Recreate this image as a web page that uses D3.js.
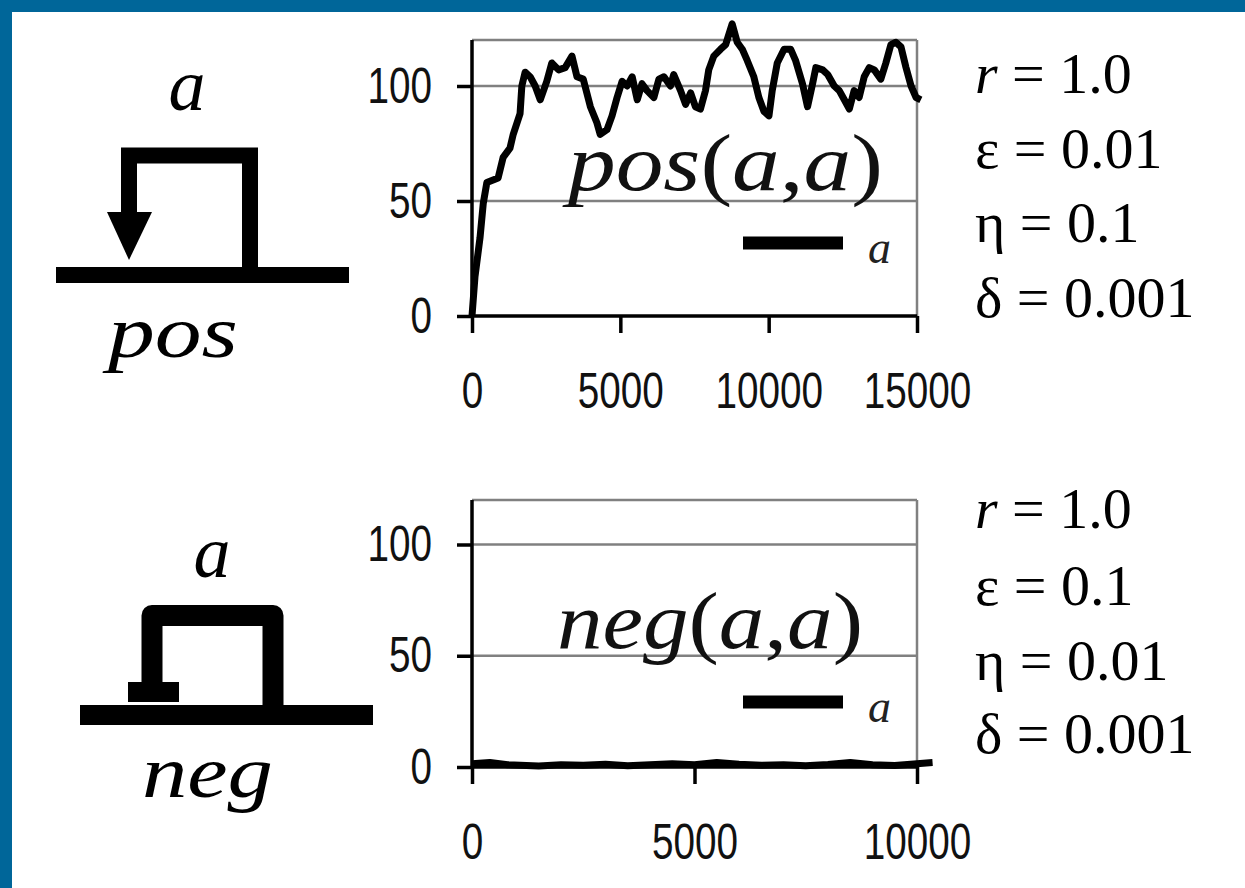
<!DOCTYPE html>
<meta charset="utf-8">
<script src="https://d3js.org/d3.v7.min.js"></script>
<style>
  body { margin: 0; background: #fff; }
  .tick text { font-family: "Liberation Sans", Arial, sans-serif; }
</style>
<div id="my_dataviz"></div>
<script>

// pos(a,a) trace
var posX = [0, 100, 270, 380, 500, 880, 1050, 1280, 1390, 1620, 1680, 1790, 1960, 2130, 2300, 2520, 2690, 2920, 3140, 3370,
  3540, 3750, 3990, 4210, 4320, 4550, 4720, 4890, 5060, 5230, 5400, 5570, 5730, 5900, 6130, 6300, 6470, 6690, 6800, 7030,
  7200, 7370, 7530, 7700, 7870, 7980, 8150, 8380, 8550, 8770, 8940, 9110, 9280, 9500, 9670, 9840, 10010, 10120, 10290, 10520,
  10740, 10910, 11140, 11310, 11480, 11590, 11820, 11990, 12210, 12380, 12550, 12720, 12880, 13050, 13220, 13390, 13560, 13780, 13950, 14120,
  14290, 14460, 14630, 14800, 14970, 15130];
var posY = [0, 17, 34, 49, 58, 60, 69, 73, 79, 88, 100, 106, 104, 100, 94, 102, 110, 107, 108, 113,
  104, 103, 91, 84, 79, 81, 87, 95, 102, 100, 104, 94, 101, 98, 95, 103, 104, 100, 105, 98,
  92, 97, 91, 90, 98, 107, 113, 116, 118, 127, 119, 116, 111, 104, 95, 89, 87, 98, 110, 116,
  116, 111, 101, 91, 101, 108, 107, 105, 100, 98, 94, 90, 98, 95, 104, 108, 107, 103, 110, 118,
  119, 117, 108, 100, 95, 94];

// neg(a,a) trace, stays near zero
var negX = [0, 400, 800, 1500, 2000, 2500, 3000, 3500, 4000, 4500, 5000, 5500, 6000, 6500, 7000, 7500, 8000, 8500, 9000, 9500, 10000, 10350];
var negY = [1.5, 2, 1, 0.5, 1, 0.8, 1.2, 0.6, 1, 1.5, 1, 2, 1.2, 0.8, 1, 0.6, 1.1, 2, 1, 0.7, 1.5, 2];

var yTicks = [0, 50, 100];
var posXTicks = [0, 5000, 10000, 15000];
var negXTicks = [0, 5000, 10000];

var paramSymbols = ["r", "ε", "η", "δ"];
var posParamValues = ["1.0", "0.01", "0.1", "0.001"];
var negParamValues = ["1.0", "0.1", "0.01", "0.001"];

var serif = '"Liberation Serif", "Times New Roman", serif';

var svg = d3.select("#my_dataviz")
  .append("svg")
    .attr("width", 1245)
    .attr("height", 888);

svg.append("rect").attr("width", 1245).attr("height", 888).style("fill", "#fff");
// blue frame on top and left
svg.append("rect").attr("x", 0).attr("y", 0).attr("width", 1245).attr("height", 12).style("fill", "#006699");
svg.append("rect").attr("x", 0).attr("y", 0).attr("width", 12).attr("height", 888).style("fill", "#006699");

function drawPanel(p) {
  var x = d3.scaleLinear().domain([0, p.xMax]).range([472, 917]);
  var y = d3.scaleLinear().domain([0, 120]).range([p.bottom, p.top]);
  var g = svg.append("g");

  // grey grid lines and frame
  g.selectAll(".grid")
    .data([50, 100, 120])
    .enter()
    .append("line")
      .attr("x1", x(0)).attr("x2", x(p.xMax))
      .attr("y1", function(d) { return y(d); })
      .attr("y2", function(d) { return y(d); })
      .style("stroke", "#808080").style("stroke-width", 2.5);
  g.append("line")
    .attr("x1", x(p.xMax)).attr("x2", x(p.xMax))
    .attr("y1", y(120)).attr("y2", y(0))
    .style("stroke", "#808080").style("stroke-width", 2.5);

  // Y axis
  var ya = g.append("g")
    .attr("transform", "translate(" + x(0) + ",0)")
    .call(d3.axisLeft(y).tickValues(yTicks).tickSize(15).tickPadding(25));
  // X axis
  var xa = g.append("g")
    .attr("transform", "translate(0," + y(0) + ")")
    .call(d3.axisBottom(x).tickValues(p.xTicks).tickSize(17).tickPadding(39).tickFormat(d3.format("d")));

  [ya, xa].forEach(function(a) {
    a.select(".domain").style("stroke", "#000").style("stroke-width", 3.5);
    a.selectAll(".tick line").style("stroke", "#000").style("stroke-width", 3.5);
    a.selectAll(".tick text")
      .style("font-size", "50px")
      .style("fill", "#111")
      .attr("textLength", function(d) { return String(d).length * 21.5; })
      .attr("lengthAdjust", "spacingAndGlyphs");
  });
  ya.select(".domain").attr("d", "M0," + y(0) + "V" + y(120));
  xa.select(".domain").attr("d", "M" + x(0) + ",0H" + x(p.xMax));

  // data line
  var line = d3.line()
    .x(function(d) { return x(d[0]); })
    .y(function(d) { return y(d[1]); });
  g.append("path")
    .datum(d3.zip(p.xs, p.ys))
    .attr("d", line)
    .style("fill", "none")
    .style("stroke", "#000")
    .style("stroke-width", p.lineWidth)
    .style("stroke-linejoin", "round");

  // big label inside the plot: italic letters, upright brackets
  var lbl = g.append("text")
    .attr("x", p.labelX).attr("y", p.labelY)
    .attr("textLength", p.labelW).attr("lengthAdjust", "spacingAndGlyphs")
    .style("font-family", serif).style("font-size", "80px")
    .style("fill", "#111");
  [[p.label, "italic"], ["(", "normal"], ["a", "italic"], [",", "normal"], ["a", "italic"], [")", "normal"]]
    .forEach(function(part) {
      lbl.append("tspan").style("font-style", part[1]).text(part[0]);
    });

  // legend
  g.append("line")
    .attr("x1", 743).attr("x2", 843)
    .attr("y1", p.legendY).attr("y2", p.legendY)
    .style("stroke", "#000").style("stroke-width", 13);
  g.append("text")
    .attr("x", 868).attr("y", p.legendY + 20)
    .style("font-family", serif).style("font-size", "46px").style("font-style", "italic")
    .style("fill", "#222")
    .text("a");

  // parameters
  var t = g.selectAll(".param")
    .data(paramSymbols)
    .enter()
    .append("text")
      .attr("x", 975)
      .attr("y", function(d, i) { return p.paramY[i]; })
      .style("font-family", serif).style("font-size", "58px");
  t.append("tspan")
    .style("font-style", function(d, i) { return i === 0 ? "italic" : "normal"; })
    .text(function(d) { return d; });
  t.append("tspan")
    .text(function(d, i) { return " = " + p.params[i]; });
}

drawPanel({
  xs: posX, ys: posY, xMax: 15000, xTicks: posXTicks,
  top: 40, bottom: 316, lineWidth: 7,
  label: "pos", labelX: 568, labelY: 190, labelW: 315,
  legendY: 243, params: posParamValues, paramY: [93, 168, 242, 317]
});
drawPanel({
  xs: negX, ys: negY, xMax: 10000, xTicks: negXTicks,
  top: 500, bottom: 767, lineWidth: 7,
  label: "neg", labelX: 557, labelY: 648, labelW: 306,
  legendY: 702, params: negParamValues, paramY: [528, 605, 680, 753]
});

// left-hand diagrams
var dg = svg.append("g");
// pos: loop with arrow
dg.append("rect").attr("x", 56).attr("y", 267).attr("width", 293).attr("height", 16).style("fill", "#000");
dg.append("path")
  .attr("d", "M250,275V155.5H129V214")
  .style("fill", "none").style("stroke", "#000").style("stroke-width", 16)
  .style("stroke-linejoin", "miter");
dg.append("path").attr("d", "M107,212L152,212L129,260Z").style("fill", "#000");
dg.append("text").attr("x", 187).attr("y", 110).attr("text-anchor", "middle")
  .style("font-family", serif).style("font-size", "74px").style("font-style", "italic").text("a");
dg.append("text").attr("x", 108).attr("y", 357).attr("textLength", 130).attr("lengthAdjust", "spacingAndGlyphs")
  .style("font-family", serif).style("font-size", "74px").style("font-style", "italic").text("pos");

// neg: loop with bar
dg.append("rect").attr("x", 80).attr("y", 705).attr("width", 293).attr("height", 20).style("fill", "#000");
dg.append("path")
  .attr("d", "M273,705V615.5H152V684")
  .style("fill", "none").style("stroke", "#000").style("stroke-width", 21)
  .style("stroke-linejoin", "round");
dg.append("rect").attr("x", 128).attr("y", 682).attr("width", 51).attr("height", 20).style("fill", "#000");
dg.append("text").attr("x", 212).attr("y", 577).attr("text-anchor", "middle")
  .style("font-family", serif).style("font-size", "74px").style("font-style", "italic").text("a");
dg.append("text").attr("x", 142).attr("y", 797).attr("textLength", 131).attr("lengthAdjust", "spacingAndGlyphs")
  .style("font-family", serif).style("font-size", "74px").style("font-style", "italic").text("neg");

</script>
